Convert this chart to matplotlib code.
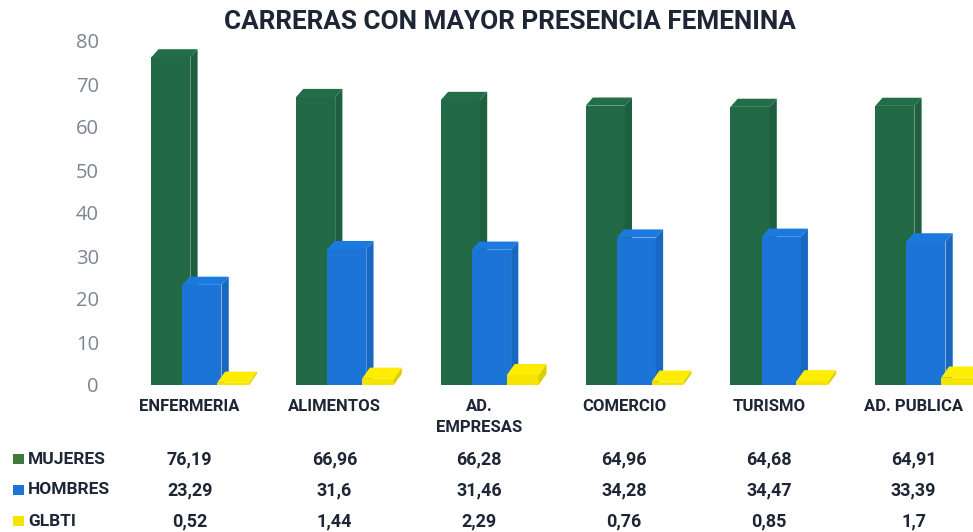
import numpy as np
import matplotlib.pyplot as plt
import matplotlib.colors as mc
from matplotlib.patches import Polygon, Rectangle
from matplotlib.transforms import blended_transform_factory

# datos del gráfico
carreras = ['ENFERMERIA', 'ALIMENTOS', 'AD.\nEMPRESAS', 'COMERCIO', 'TURISMO', 'AD. PUBLICA']
mujeres = [76.19, 66.96, 66.28, 64.96, 64.68, 64.91]
hombres = [23.29, 31.6, 31.46, 34.28, 34.47, 33.39]
glbti = [0.52, 1.44, 2.29, 0.76, 0.85, 1.7]
mujeres_txt = ['76,19', '66,96', '66,28', '64,96', '64,68', '64,91']
hombres_txt = ['23,29', '31,6', '31,46', '34,28', '34,47', '33,39']
glbti_txt = ['0,52', '1,44', '2,29', '0,76', '0,85', '1,7']
series = ['MUJERES', 'HOMBRES', 'GLBTI']

verde = '#216a45'
azul = '#1b74d6'
amarillo = '#f4e400'
texto = '#1e2635'
fuente = 'Roboto'

W, H = 973, 532
fig = plt.figure(figsize=(W / 100, H / 100), dpi=100)
ax = fig.add_axes([110 / W, (H - 385) / H, (W - 110) / W, (385 - 41) / H])
ax.set_xlim(-0.55, 5.41)
ax.set_ylim(0, 80)

x = np.arange(len(carreras))
ancho = 0.27
dx, dy = 0.05, 1.9  # profundidad del efecto 3D


def shade(c, f):
    r, g, b = mc.to_rgb(c)
    return (min(r * f, 1), min(g * f, 1), min(b * f, 1))


def barras_3d(pos, vals, color, z, w=ancho, d=dx, e=dy):
    ax.bar(pos, vals, width=w, color=color, zorder=z, linewidth=0)
    for p, v in zip(pos, vals):
        x0, x1 = p - w / 2, p + w / 2
        top = Polygon([(x0, v), (x0 + d, v + e), (x1 + d, v + e), (x1, v)],
                      closed=True, facecolor=shade(color, 1.04), edgecolor='none', zorder=z)
        side = Polygon([(x1, 0), (x1 + d, e), (x1 + d, v + e), (x1, v)],
                       closed=True, facecolor=shade(color, 0.9), edgecolor='none', zorder=z)
        ax.add_patch(top)
        ax.add_patch(side)


barras_3d(x - 0.13, mujeres, verde, 2)
barras_3d(x + 0.085, hombres, azul, 3)
barras_3d(x + 0.30, glbti, amarillo, 4, w=0.22, d=0.055, e=2.6)

for s in ax.spines.values():
    s.set_visible(False)
ax.set_yticks(range(0, 81, 10))
ax.tick_params(axis='y', length=0, pad=8, labelsize=14.5, labelcolor='#7b8591')
for lb in ax.get_yticklabels():
    lb.set_fontfamily('Open Sans')
ax.set_xticks(x)
ax.set_xticklabels(carreras, fontsize=12, fontweight='bold', color=texto,
                   fontfamily=fuente, linespacing=1.5, va='top')
ax.tick_params(axis='x', length=0, pad=10)

fig.text(510 / W, 1 - 22 / H, 'CARRERAS CON MAYOR PRESENCIA FEMENINA', ha='center', va='center',
         fontsize=18.8, fontweight='bold', color=texto, fontfamily=fuente)

# tabla de datos
tr = blended_transform_factory(ax.transData, fig.transFigure)
filas_y = [459, 490, 521]
colores = ['#3f7a3c', azul, amarillo]
valores = [mujeres_txt, hombres_txt, glbti_txt]
for nombre, yy, col, vals in zip(series, filas_y, colores, valores):
    yf = 1 - yy / H
    fig.patches.append(Rectangle((13 / W, yf - 5 / H), 11 / W, 10 / H, transform=fig.transFigure,
                                 facecolor=col, edgecolor='none'))
    fig.text(28 / W, yf, nombre, ha='left', va='center', fontsize=12.5, fontweight='bold',
             color=texto, fontfamily=fuente)
    for xi, v in zip(x, vals):
        fig.text(xi, yf, v, transform=tr, ha='center', va='center', fontsize=13,
                 fontweight='bold', color=texto, fontfamily=fuente)

fig.savefig('out.png', dpi=100)
